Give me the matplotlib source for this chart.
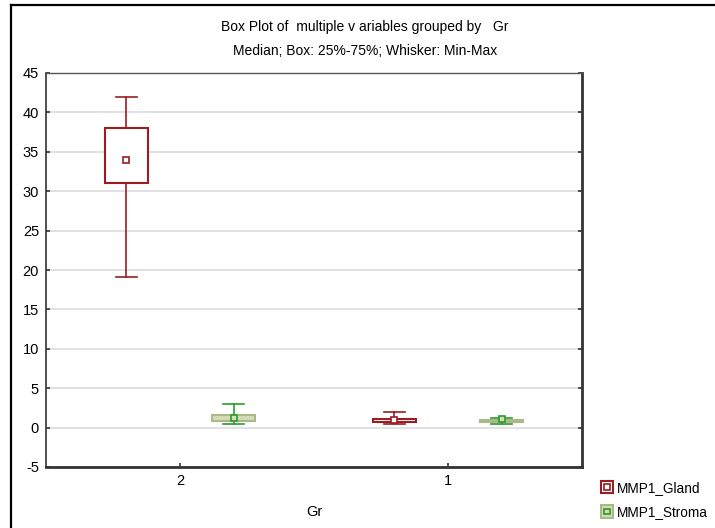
import matplotlib
matplotlib.use("Agg")
import matplotlib.pyplot as plt
from matplotlib.lines import Line2D
from matplotlib.patches import Rectangle
from matplotlib.legend_handler import HandlerBase

plt.rcParams['font.family'] = ['Liberation Sans', 'DejaVu Sans']
plt.rcParams['axes.unicode_minus'] = False

groups = ["2", "1"]
series = ["MMP1_Gland", "MMP1_Stroma"]
# stats per series, per group: min, q1, median, q3, max
gland_min = [19.1, 0.42]
gland_q1 = [31.0, 0.68]
gland_med = [34.0, 1.0]
gland_q3 = [38.0, 1.1]
gland_max = [42.0, 2.0]
stroma_min = [0.45, 0.45]
stroma_q1 = [0.8, 0.72]
stroma_med = [1.2, 1.05]
stroma_q3 = [1.55, 1.0]
stroma_max = [3.0, 1.2]
yticks = list(range(-5, 50, 5))

red = "#9b1c22"
green = "#2e9a2e"
green_face = "#d3dcb5"
green_edge = "#aab88a"

fig = plt.figure(figsize=(7.15, 5.28), dpi=100)
ax = fig.add_axes([46/715, 1-467/528, (582-46)/715, (467-73)/528])

def stats(mins, q1s, meds, q3s, maxs):
    return [dict(whislo=a, q1=b, med=c, q3=d, whishi=e, fliers=[])
            for a, b, c, d, e in zip(mins, q1s, meds, q3s, maxs)]

off = 0.2
bw = 0.16
pos = list(range(len(groups)))

for st, dx, ec, fc, wc in [
    (stats(gland_min, gland_q1, gland_med, gland_q3, gland_max), -off, red, "white", red),
    (stats(stroma_min, stroma_q1, stroma_med, stroma_q3, stroma_max), off, green_edge, green_face, green),
]:
    ax.bxp(st, positions=[p + dx for p in pos], widths=bw, patch_artist=True,
           showfliers=False, manage_ticks=False,
           boxprops=dict(facecolor=fc, edgecolor=ec, linewidth=1.5),
           whiskerprops=dict(color=wc, linewidth=1.2),
           capprops=dict(color=wc, linewidth=1.2),
           capwidths=0.08,
           medianprops=dict(linewidth=0))
    meds = [s["med"] for s in st]
    ax.plot([p + dx for p in pos], meds, ls="none", marker="s", ms=5,
            mfc="white" if wc == red else green_face, mec=wc, mew=1.2, zorder=5)

ax.set_xlim(-0.5, 1.5)
ax.set_ylim(-5, 45)
ax.set_yticks(yticks)
ax.set_xticks(pos)
ax.set_xticklabels(groups)
ax.yaxis.grid(True, color="#dcdcdc", linewidth=1.2)
ax.set_axisbelow(True)
ax.tick_params(axis='both', labelsize=10.5, direction='in', length=3, width=1.2,
               colors='#333333', labelcolor='black', pad=5)
ax.tick_params(axis='y', right=True)
ax.spines['left'].set_color('#333333')
ax.spines['left'].set_linewidth(1.2)
ax.spines['top'].set_color('#555555')
ax.spines['top'].set_linewidth(1.0)
ax.spines['bottom'].set_color('#333333')
ax.spines['bottom'].set_linewidth(2)
ax.spines['right'].set_color('#333333')
ax.spines['right'].set_linewidth(2)
fig.text(314/715, 1-512/528, "Gr", ha="center", va="center", fontsize=10.5)

fig.text(365/715, 1-27/528, "Box Plot of  multiple v ariables grouped by   Gr",
         ha="center", va="center", fontsize=10)
fig.text(365/715, 1-51/528, "Median; Box: 25%-75%; Whisker: Min-Max",
         ha="center", va="center", fontsize=10)

# figure border (left and top)
fig.add_artist(Line2D([11.5/715, 11.5/715], [0, 1-4.5/528], color="black", lw=1.6, transform=fig.transFigure))
fig.add_artist(Line2D([11.5/715, 1], [1-4.5/528, 1-4.5/528], color="black", lw=1.6, transform=fig.transFigure))

class BoxHandler(HandlerBase):
    def __init__(self, ec, fc, ic):
        super().__init__()
        self.ec, self.fc, self.ic = ec, fc, ic
    def create_artists(self, legend, orig_handle, xdescent, ydescent, width, height, fontsize, trans):
        s = height * 1.3
        x0 = width - s
        y0 = (height - s) / 2
        outer = Rectangle((x0, y0), s, s, facecolor=self.fc, edgecolor=self.ec, lw=1.5, transform=trans)
        i = s * 0.45
        inner = Rectangle((x0 + (s - i) / 2, y0 + (s - i) / 2), i, i, facecolor="none",
                          edgecolor=self.ic, lw=1.2, transform=trans)
        return [outer, inner]

h1 = Rectangle((0, 0), 1, 1)
h2 = Rectangle((0, 0), 1, 1)
fig.legend([h1, h2], series, loc="center left", bbox_to_anchor=(590/715, 1-500/528),
           frameon=False, fontsize=9.8, handlelength=1.2, handletextpad=0.25, labelspacing=0.75,
           borderpad=0,
           handler_map={h1: BoxHandler(red, "white", red), h2: BoxHandler(green_edge, green_face, green)})

fig.savefig("out.png", dpi=100)
